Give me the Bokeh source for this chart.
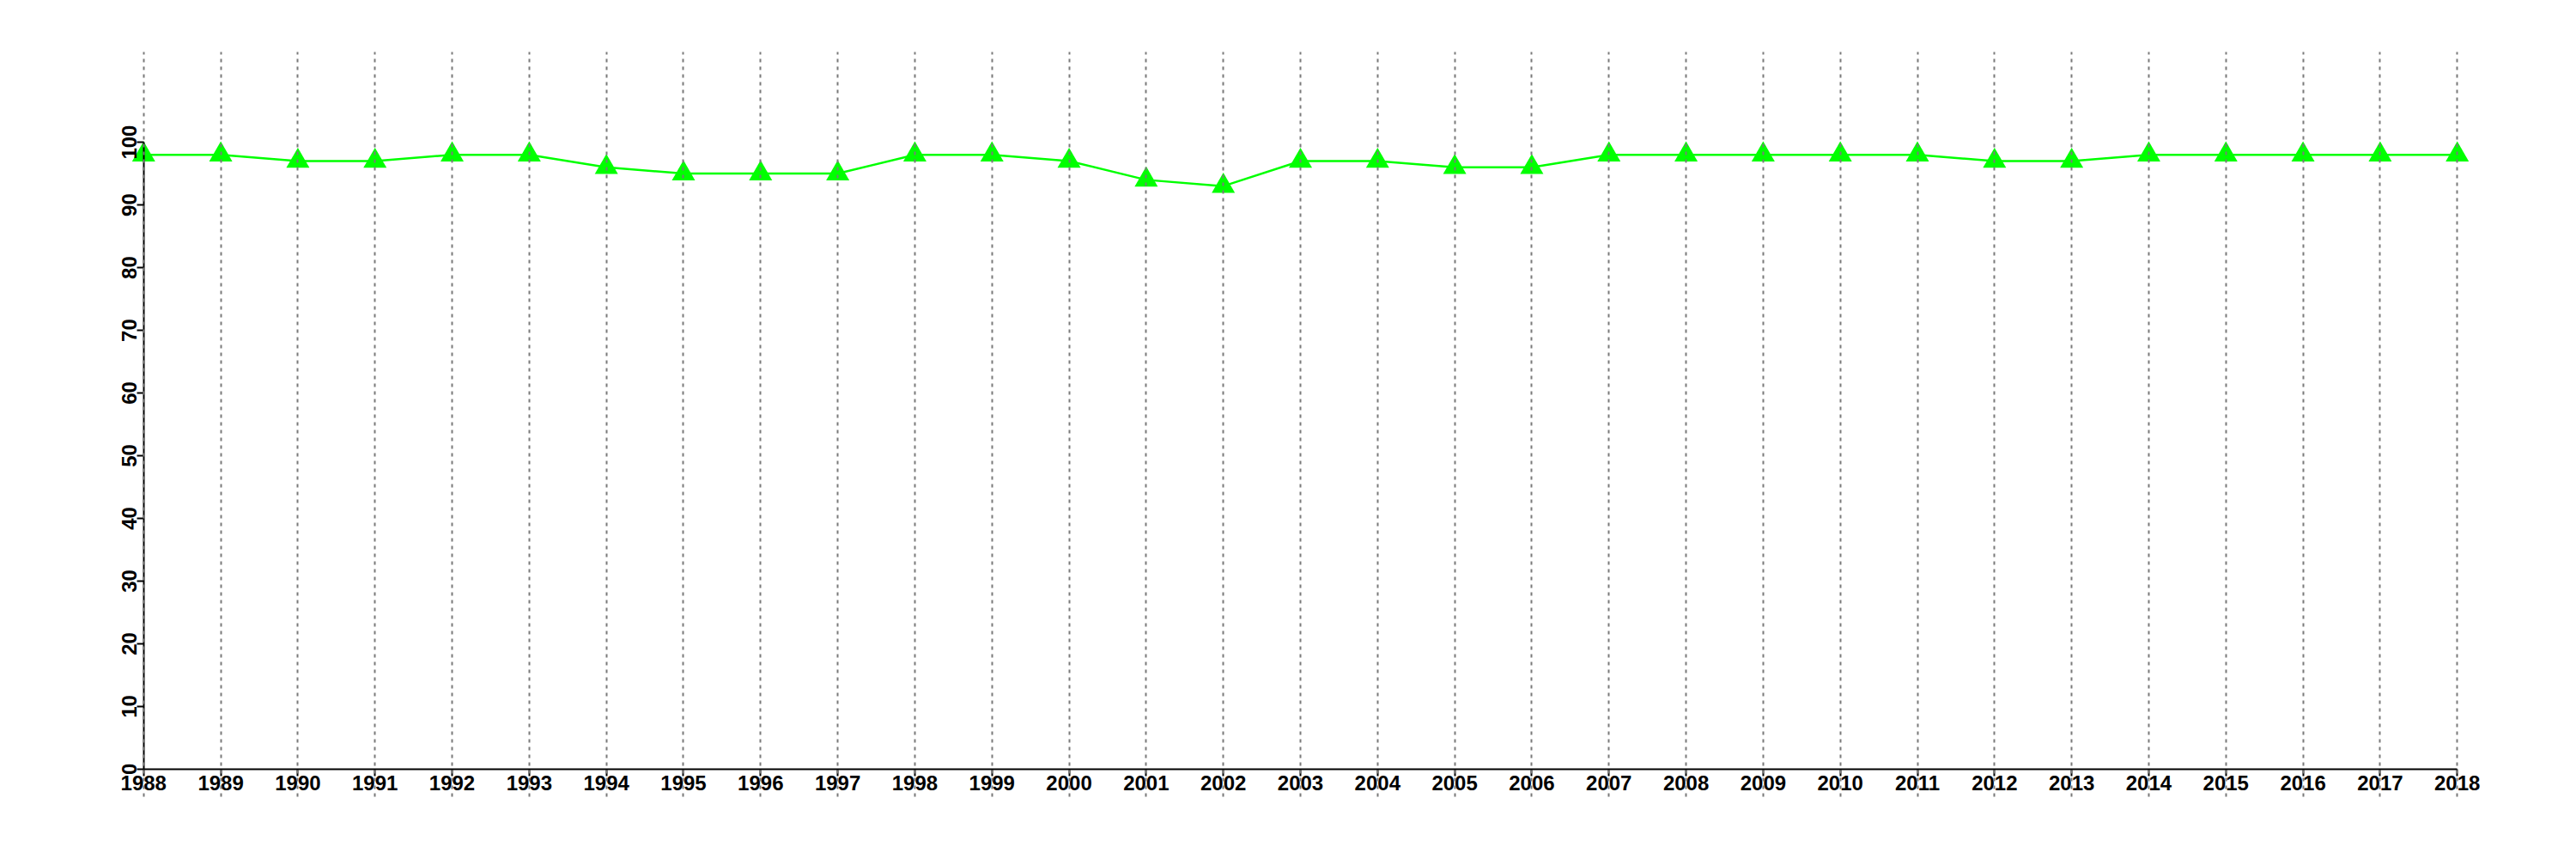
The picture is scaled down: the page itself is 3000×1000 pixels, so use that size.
from bokeh.plotting import figure
from bokeh.models import LinearAxis, FixedTicker, Range1d, Grid
from bokeh.embed import file_html
from bokeh.resources import INLINE

years = list(range(1988, 2019))
values = [98, 98, 97, 97, 98, 98, 96, 95, 95, 95, 98, 98, 97, 94, 93, 97,
          97, 96, 96, 98, 98, 98, 98, 98, 97, 97, 98, 98, 98, 98, 98]
y_ticks = [0, 10, 20, 30, 40, 50, 60, 70, 80, 90, 100]

p = figure(width=2992, height=992, output_backend="svg", toolbar_location=None,
           x_axis_location=None, y_axis_location=None,
           x_range=Range1d(1986.8, 2019.2), y_range=Range1d(-4.4, 114.4),
           min_border_left=59, min_border_right=23, min_border_top=60, min_border_bottom=65)
p.outline_line_color = None
p.background_fill_color = "white"
p.border_fill_color = "white"

p.line(years, values, line_color="#00FF00", line_width=2.5)
p.scatter(years, values, marker="triangle", size=27, fill_color="#00FF00", line_color=None)

font = "Liberation Sans"

xaxis = LinearAxis(fixed_location=0, ticker=FixedTicker(ticks=years), bounds=(1988, 2018))
yaxis = LinearAxis(fixed_location=1988, ticker=FixedTicker(ticks=y_ticks), bounds=(0, 100))
for ax in (xaxis, yaxis):
    ax.axis_line_color = "black"
    ax.axis_line_width = 2
    ax.major_tick_line_color = "black"
    ax.major_tick_line_width = 2
    ax.major_tick_in = 0
    ax.major_tick_out = 8
    ax.minor_tick_line_color = None
    ax.major_label_text_font = font
    ax.major_label_text_font_style = "bold"
    ax.major_label_text_font_size = "24px"
    ax.major_label_text_color = "black"
    ax.major_label_standoff = 0
yaxis.major_label_orientation = "vertical"
p.add_layout(xaxis, "below")
p.add_layout(yaxis, "left")

p.xgrid.visible = False
p.ygrid.visible = False
g = Grid(dimension=0, ticker=FixedTicker(ticks=years), grid_line_color="#7a7a7a",
         grid_line_width=2, grid_line_dash="4 5", level="annotation")
p.add_layout(g)

open("out.html", "w").write(file_html(p, INLINE))
